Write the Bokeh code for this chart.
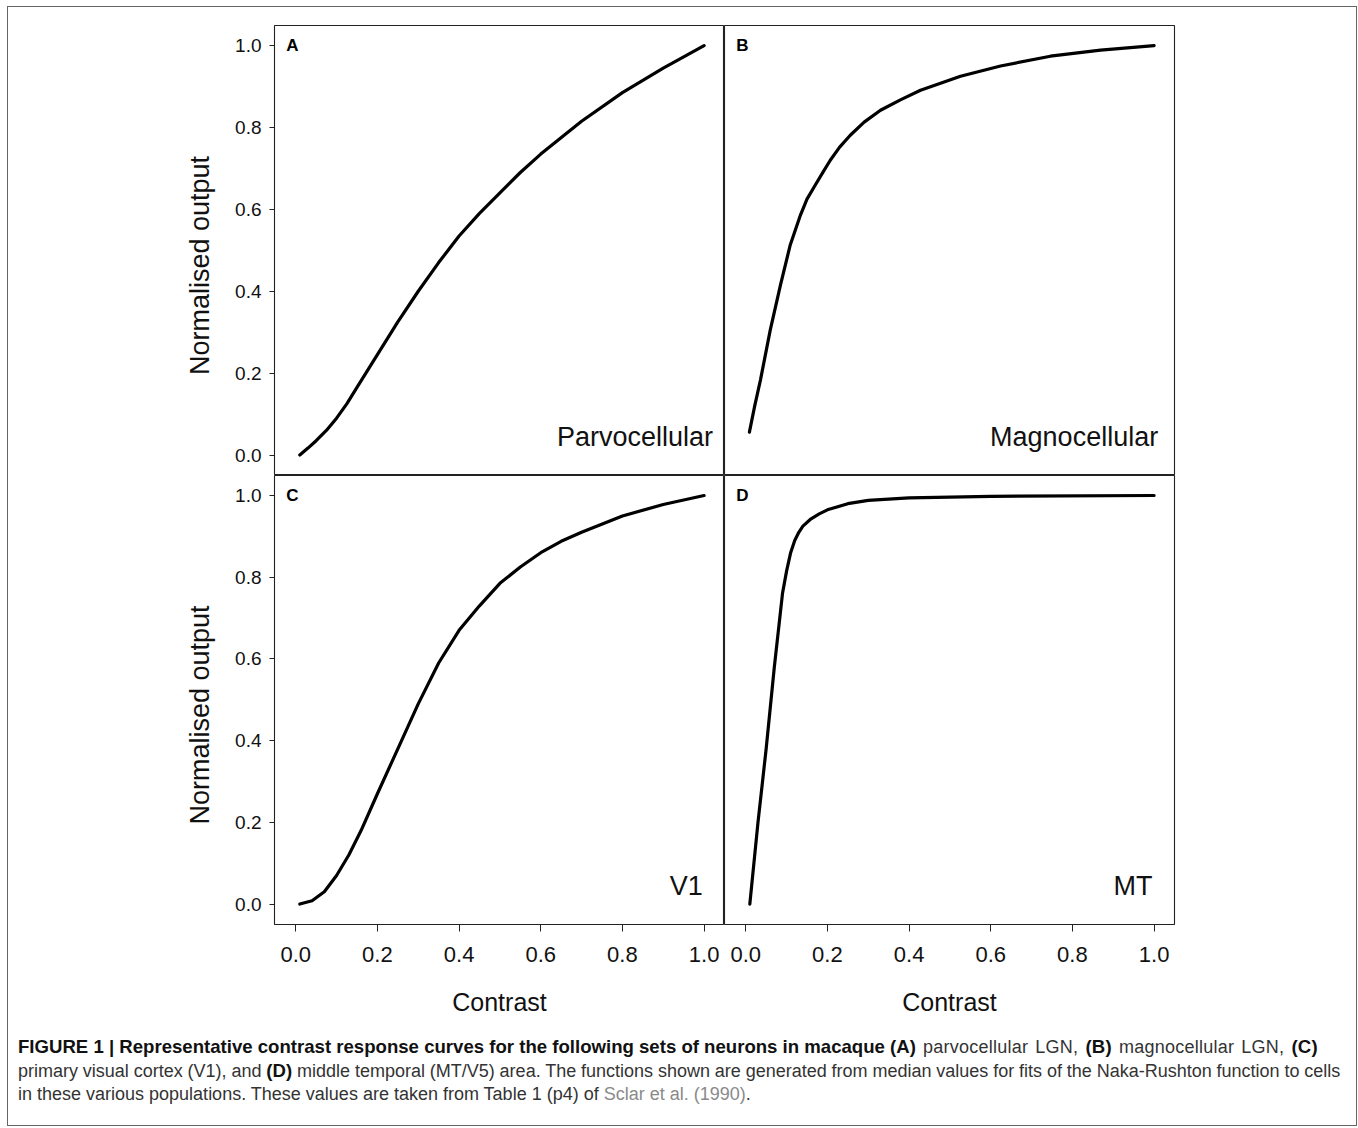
from bokeh.plotting import figure
from bokeh.layouts import gridplot, column
from bokeh.models import Div, Range1d, Label, FixedTicker
from bokeh.embed import file_html
from bokeh.resources import INLINE

# ---------------- data ----------------
tick_values = [0.0, 0.2, 0.4, 0.6, 0.8, 1.0]
tick_labels = ["0.0", "0.2", "0.4", "0.6", "0.8", "1.0"]

parvo_contrast = [0.01, 0.03, 0.05, 0.075, 0.10, 0.125, 0.15, 0.20, 0.25, 0.30, 0.35, 0.40, 0.45, 0.50, 0.55, 0.60, 0.70, 0.80, 0.90, 1.00]
parvo_response = [0.00, 0.017, 0.035, 0.06, 0.09, 0.125, 0.165, 0.245, 0.325, 0.40, 0.47, 0.535, 0.59, 0.64, 0.69, 0.735, 0.815, 0.885, 0.945, 1.00]

magno_contrast = [0.009, 0.022, 0.036, 0.06, 0.085, 0.109, 0.134, 0.15, 0.17, 0.19, 0.207, 0.23, 0.256, 0.29, 0.33, 0.38, 0.428, 0.526, 0.624, 0.746, 0.869, 1.00]
magno_response = [0.056, 0.12, 0.183, 0.305, 0.415, 0.513, 0.586, 0.625, 0.659, 0.692, 0.72, 0.752, 0.781, 0.813, 0.842, 0.868, 0.891, 0.925, 0.95, 0.974, 0.989, 1.00]

v1_contrast = [0.01, 0.04, 0.07, 0.10, 0.13, 0.16, 0.20, 0.25, 0.30, 0.35, 0.40, 0.45, 0.50, 0.55, 0.60, 0.65, 0.70, 0.80, 0.90, 1.00]
v1_response = [0.00, 0.008, 0.03, 0.07, 0.12, 0.18, 0.27, 0.38, 0.49, 0.59, 0.67, 0.73, 0.785, 0.825, 0.86, 0.888, 0.91, 0.95, 0.978, 1.00]

mt_contrast = [0.01, 0.03, 0.05, 0.07, 0.09, 0.10, 0.11, 0.12, 0.13, 0.14, 0.16, 0.18, 0.20, 0.25, 0.30, 0.40, 0.60, 1.00]
mt_response = [0.00, 0.20, 0.38, 0.58, 0.76, 0.815, 0.86, 0.89, 0.91, 0.925, 0.943, 0.955, 0.965, 0.98, 0.988, 0.994, 0.998, 1.00]

panels = [
    ("A", "Parvocellular", parvo_contrast, parvo_response),
    ("B", "Magnocellular", magno_contrast, magno_response),
    ("C", "V1", v1_contrast, v1_response),
    ("D", "MT", mt_contrast, mt_response),
]
name_x = [1.022, 1.010, 0.997, 0.996]

FONT = "Liberation Sans"
X_RANGE = (-0.052, 1.05)
Y_RANGE = (-0.05, 1.049)

CONTENT_W = 1348
LEFT_BORDER = 266
FRAME_W = 450
RIGHT_BORDER = CONTENT_W - LEFT_BORDER - 2 * FRAME_W
TOP_BORDER = 18
BOTTOM_BORDER = 100
NBSP = "\u00a0"


def make_panel(i, letter, name, xs, ys):
    col = i % 2
    row = i // 2
    frame_h = 450 if row == 0 else 449
    width = (LEFT_BORDER if col == 0 else 0) + FRAME_W + (RIGHT_BORDER if col == 1 else 0)
    height = (TOP_BORDER if row == 0 else 0) + frame_h + (BOTTOM_BORDER if row == 1 else 0)
    p = figure(
        width=width, height=height,
        x_range=Range1d(*X_RANGE), y_range=Range1d(*Y_RANGE),
        output_backend="svg", toolbar_location=None,
        x_axis_location="below" if row == 1 else None,
        y_axis_location="left" if col == 0 else None,
        min_border_left=LEFT_BORDER if col == 0 else 0,
        min_border_right=RIGHT_BORDER if col == 1 else 0,
        min_border_top=TOP_BORDER if row == 0 else 0,
        min_border_bottom=BOTTOM_BORDER if row == 1 else 0,
    )
    p.grid.visible = False
    p.outline_line_color = "#222222"
    p.outline_line_width = 1.1
    p.background_fill_color = "white"
    p.border_fill_color = "white"

    if row == 1:
        ax = p.xaxis[0]
        ax.ticker = FixedTicker(ticks=tick_values)
        ax.major_label_overrides = {v: s for v, s in zip(tick_values, tick_labels)}
        ax.axis_label = "Contrast"
        ax.axis_label_text_font = FONT
        ax.axis_label_text_font_size = "25px"
        ax.axis_label_text_font_style = "normal"
        ax.axis_label_text_color = "#111111"
        ax.axis_label_standoff = 23
        ax.major_label_text_font = FONT
        ax.major_label_text_font_size = "22px"
        ax.major_label_text_color = "#111111"
        ax.major_label_standoff = 15
        ax.axis_line_color = None
        ax.major_tick_out = 7
        ax.major_tick_in = 0
        ax.major_tick_line_color = "#222222"
        ax.minor_tick_line_color = None
    if col == 0:
        ay = p.yaxis[0]
        ay.ticker = FixedTicker(ticks=tick_values)
        ay.major_label_overrides = {v: s for v, s in zip(tick_values, tick_labels)}
        ay.axis_label = "Normalised output" + NBSP * 4
        ay.axis_label_text_font = FONT
        ay.axis_label_text_font_size = "27px"
        ay.axis_label_text_font_style = "normal"
        ay.axis_label_text_color = "#111111"
        ay.axis_label_standoff = 17
        ay.major_label_text_font = FONT
        ay.major_label_text_font_size = "19px"
        ay.major_label_text_color = "#111111"
        ay.major_label_standoff = 8
        ay.axis_line_color = None
        ay.major_tick_out = 5
        ay.major_tick_in = 0
        ay.major_tick_line_color = "#222222"
        ay.minor_tick_line_color = None

    p.line(xs, ys, line_color="black", line_width=3.2, line_cap="round", line_join="round")

    p.add_layout(Label(x=-0.023, y=1.0, text=letter, text_font=FONT, text_font_size="17px",
                       text_font_style="bold", text_align="left", text_baseline="middle",
                       text_color="black"))
    p.add_layout(Label(x=name_x[i], y=0.044, text=name, text_font=FONT, text_font_size="27px",
                       text_align="right", text_baseline="middle", text_color="#111111"))
    return p


figs = [make_panel(i, *pn) for i, pn in enumerate(panels)]
grid = gridplot([[figs[0], figs[1]], [figs[2], figs[3]]], toolbar_location=None)

B = '<b style="color:#111111; font-size:18.6px">'
caption_html = (
    '<div style="font-family: \'Liberation Sans\', Arial, sans-serif; font-size: 18px; line-height: 23px; '
    'color: #333333; white-space: nowrap; padding: 11px 0 0 10px;">'
    + B + 'FIGURE 1 | Representative contrast response curves for the following sets of neurons in macaque (A)</b>'
    '<span style="word-spacing: 1.8px; letter-spacing: 0.25px"> parvocellular LGN, ' + B + '(B)</b> magnocellular LGN, ' + B + '(C)</b></span><br>'
    '<span style="word-spacing: -0.15px">primary visual cortex (V1), and ' + B + '(D)</b> middle temporal (MT/V5) area. '
    'The functions shown are generated from median values for fits of the Naka-Rushton function to cells</span><br>'
    'in these various populations. These values are taken from Table 1 (p4) of '
    '<span style="color:#8a8a8a">Sclar et al. (1990)</span>.'
    '</div>'
)
caption = Div(text=caption_html, width=CONTENT_W, height=101, margin=(0, 0, 0, 0))

layout = column(grid, caption, styles={"border": "1px solid #666666", "background-color": "white",
                                       "margin-left": "7px", "margin-top": "6px"})

open("out.html", "w").write(file_html(layout, INLINE))
